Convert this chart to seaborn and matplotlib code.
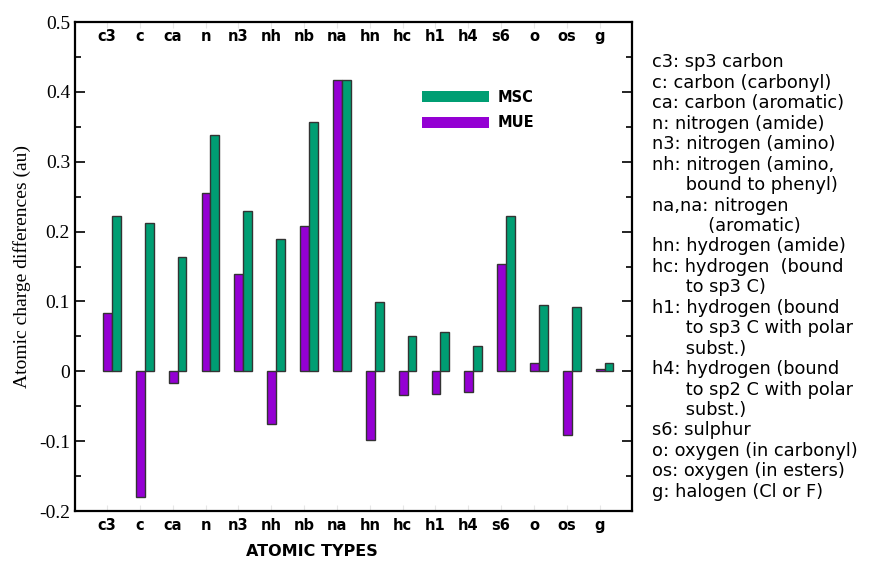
import matplotlib
matplotlib.use("Agg")
import matplotlib.pyplot as plt
from matplotlib.patches import Patch
from matplotlib.ticker import MultipleLocator
import seaborn as sns
import pandas as pd

types = ["c3", "c", "ca", "n", "n3", "nh", "nb", "na", "hn", "hc", "h1", "h4", "s6", "o", "os", "g"]
mue = [0.084, -0.180, -0.016, 0.255, 0.140, -0.076, 0.208, 0.417, -0.098, -0.034, -0.033, -0.030, 0.153, 0.0115, -0.091, 0.004]
msc = [0.223, 0.213, 0.163, 0.339, 0.229, 0.189, 0.357, 0.417, 0.099, 0.050, 0.056, 0.036, 0.222, 0.0955, 0.0926, 0.0125]

notes = [
    "c3: sp3 carbon",
    "c: carbon (carbonyl)",
    "ca: carbon (aromatic)",
    "n: nitrogen (amide)",
    "n3: nitrogen (amino)",
    "nh: nitrogen (amino,",
    "      bound to phenyl)",
    "na,na: nitrogen",
    "          (aromatic)",
    "hn: hydrogen (amide)",
    "hc: hydrogen  (bound",
    "      to sp3 C)",
    "h1: hydrogen (bound",
    "      to sp3 C with polar",
    "      subst.)",
    "h4: hydrogen (bound",
    "      to sp2 C with polar",
    "      subst.)",
    "s6: sulphur",
    "o: oxygen (in carbonyl)",
    "os: oxygen (in esters)",
    "g: halogen (Cl or F)",
]

df = pd.DataFrame({
    "type": types * 2,
    "value": mue + msc,
    "method": ["MUE"] * len(types) + ["MSC"] * len(types),
})

colors = {"MUE": "#9400D3", "MSC": "#009E73"}

sns.set_style("ticks")
plt.rcParams["text.color"] = "black"
plt.rcParams["xtick.labelcolor"] = "black"
plt.rcParams["ytick.labelcolor"] = "black"
plt.rcParams["axes.labelcolor"] = "black"

fig = plt.figure(figsize=(8.77, 5.62), dpi=100)
ax = fig.add_axes([0.0855, 0.0907, 0.635, 0.870])

sns.barplot(data=df, x="type", y="value", hue="method", hue_order=["MUE", "MSC"],
            palette=colors, width=0.54, errorbar=None, edgecolor="#333333",
            linewidth=1, saturation=1, legend=False, ax=ax)

pos = [i - 0.15 for i in range(len(types))]
ax.set_xlim(-1.125, 15.83)
ax.set_ylim(-0.2, 0.5)
ax.set_xticks(pos)
ax.set_xticklabels(types, fontweight="bold", fontsize=10.5, family="DejaVu Sans")
ax.tick_params(axis="x", direction="in", length=4, color="#e6e6e6", pad=5,
               top=True)

top = ax.secondary_xaxis("top")
top.set_xticks(pos)
top.set_xticklabels(types, fontweight="bold", fontsize=10.5, family="DejaVu Sans")
top.tick_params(length=0, pad=-16)

ax.yaxis.set_major_locator(MultipleLocator(0.1))
ax.yaxis.set_minor_locator(MultipleLocator(0.05))
ax.tick_params(axis="y", which="both", direction="in", left=True, right=True,
               color="black", width=1.2)
ax.tick_params(axis="y", which="major", length=7, labelsize=14)
ax.tick_params(axis="y", which="minor", length=4)
ax.set_yticks([-0.2, -0.1, 0, 0.1, 0.2, 0.3, 0.4, 0.5])
ax.set_yticklabels(["-0.2", "-0.1", "0", "0.1", "0.2", "0.3", "0.4", "0.5"],
                   family="Liberation Serif")

for s in ax.spines.values():
    s.set_visible(True)
    s.set_linewidth(1.6)
    s.set_color("black")
top.spines["top"].set_visible(False)

ax.set_xlabel("ATOMIC TYPES", fontweight="bold", fontsize=11.5, family="DejaVu Sans")
ax.xaxis.set_label_coords(0.4255, -0.068)
ax.set_ylabel("Atomic charge differences (au)", fontsize=14, family="Liberation Serif", labelpad=6)

handles = [Patch(facecolor=colors["MSC"], edgecolor="none"),
           Patch(facecolor=colors["MUE"], edgecolor="none")]
ax.legend(handles, ["MSC", "MUE"], loc="upper left", bbox_to_anchor=(0.60, 0.888),
          frameon=False, handlelength=4.6, handleheight=0.8, handletextpad=0.6,
          labelspacing=0.7, prop={"weight": "bold", "size": 10.5, "family": "DejaVu Sans"})

fig.text(0.7435, 0.905, "\n".join(notes), fontsize=12.8, family="DejaVu Sans",
         va="top", ha="left", linespacing=1.175)

fig.savefig("out.png", dpi=100)
